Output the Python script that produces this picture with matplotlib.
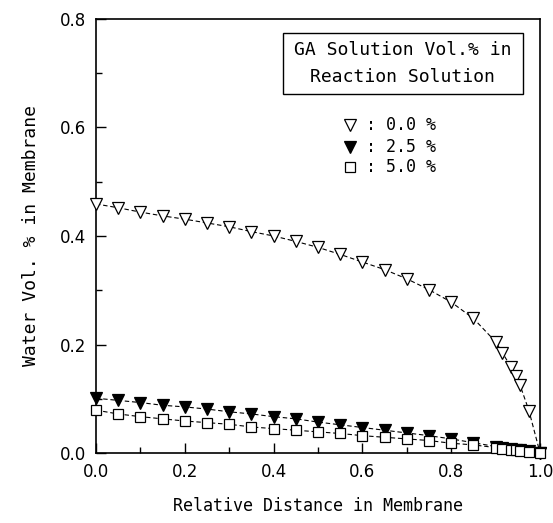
import matplotlib
matplotlib.use("Agg")
import matplotlib.pyplot as plt
from matplotlib.patches import Rectangle
from matplotlib.ticker import MultipleLocator, FormatStrFormatter

# relative distance in membrane (shared grid)
distance = [0.0, 0.05, 0.10, 0.15, 0.20, 0.25, 0.30, 0.35, 0.40, 0.45, 0.50,
            0.55, 0.60, 0.65, 0.70, 0.75, 0.80, 0.85, 0.90, 0.915, 0.935,
            0.945, 0.955, 0.975, 1.0]

# water vol. % in membrane for each GA solution vol. %
ga_0_0 = [0.459, 0.452, 0.444, 0.437, 0.431, 0.424, 0.417, 0.408, 0.400, 0.390, 0.379,
          0.366, 0.352, 0.338, 0.321, 0.301, 0.278, 0.248, 0.205, 0.185, 0.158,
          0.142, 0.125, 0.078, 0.0]
ga_2_5 = [0.101, 0.097, 0.093, 0.088, 0.085, 0.081, 0.076, 0.072, 0.067, 0.063, 0.057,
          0.052, 0.047, 0.042, 0.037, 0.032, 0.026, 0.019, 0.012, 0.010, 0.008,
          0.006, 0.005, 0.003, 0.0]
ga_5_0 = [0.079, 0.072, 0.067, 0.063, 0.059, 0.056, 0.053, 0.048, 0.045, 0.042, 0.039,
          0.036, 0.032, 0.029, 0.026, 0.023, 0.018, 0.015, 0.010, 0.008, 0.006,
          0.005, 0.004, 0.002, 0.0]

legend_title = ["GA Solution Vol.% in", "Reaction Solution"]
series_labels = [": 0.0 %", ": 2.5 %", ": 5.0 %"]

# wide, evenly spaced letters like the plotter font of the original
plt.rcParams['font.family'] = ['DejaVu Sans Mono', 'DejaVu Sans']

fig = plt.figure(figsize=(5.53, 5.23), dpi=100)
ax = fig.add_axes([0.1736, 0.1338, 0.803, 0.830])

dash = (0, (4, 2.5))
ax.plot(distance, ga_0_0, color='black', lw=0.8, ls=dash, marker='v',
        ms=8, mfc='white', mec='black', mew=0.9, clip_on=False, zorder=3)
ax.plot(distance, ga_2_5, color='black', lw=0.8, ls=dash, marker='v',
        ms=8, mfc='black', mec='black', mew=0.9, clip_on=False, zorder=3)
ax.plot(distance, ga_5_0, color='black', lw=0.8, ls=dash, marker='s',
        ms=7, mfc='white', mec='black', mew=0.9, clip_on=False, zorder=3)

ax.set_xlim(0, 1.0)
ax.set_ylim(0, 0.8)
ax.xaxis.set_major_locator(MultipleLocator(0.2))
ax.xaxis.set_minor_locator(MultipleLocator(0.1))
ax.yaxis.set_major_locator(MultipleLocator(0.2))
ax.yaxis.set_minor_locator(MultipleLocator(0.1))
ax.xaxis.set_major_formatter(FormatStrFormatter('%.1f'))
ax.yaxis.set_major_formatter(FormatStrFormatter('%.1f'))
ax.tick_params(which='both', direction='in', top=False, right=False,
               labelsize=12, width=1)
ax.tick_params(which='major', length=7, pad=7)
ax.tick_params(which='minor', length=4)
for lab in ax.get_xticklabels() + ax.get_yticklabels():
    lab.set_family('DejaVu Sans')
for s in ax.spines.values():
    s.set_linewidth(1.2)

ax.set_xlabel("Relative Distance in Membrane", fontsize=12, labelpad=12)
ax.set_ylabel("Water Vol. % in Membrane", fontsize=13, labelpad=14)

# legend header box
ax.add_patch(Rectangle((0.421, 0.827), 0.541, 0.141, transform=ax.transAxes,
                       fc='white', ec='black', lw=1, zorder=4))
for line, y in zip(legend_title, [0.928, 0.866]):
    ax.text(0.69, y, line, transform=ax.transAxes, ha='center', va='center',
            fontsize=13, zorder=5)

# legend entries
markers = [('v', 'white', 8), ('v', 'black', 8), ('s', 'white', 7)]
ys = [0.756, 0.706, 0.659]
for (m, fc, size), y, lab in zip(markers, ys, series_labels):
    ax.plot([0.572], [y], marker=m, ms=size, mfc=fc, mec='black', mew=0.9,
            transform=ax.transAxes, ls='none')
    ax.text(0.607, y, lab, transform=ax.transAxes, ha='left', va='center',
            fontsize=12)

fig.savefig("out.png", dpi=100)
